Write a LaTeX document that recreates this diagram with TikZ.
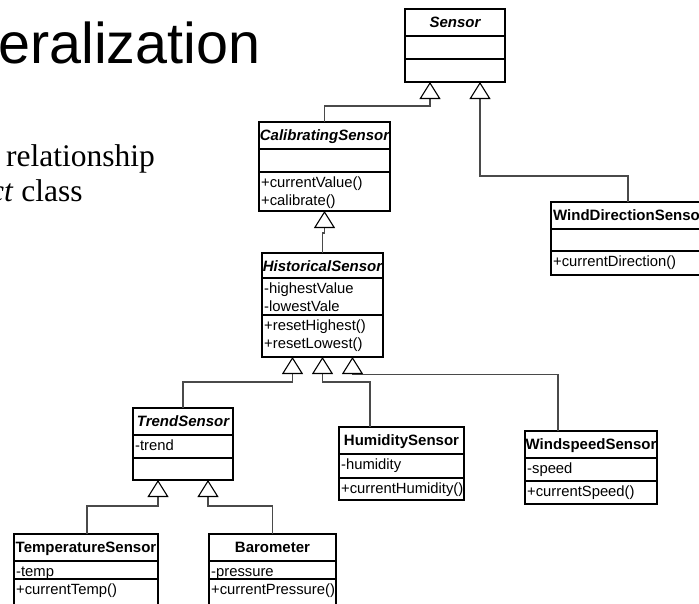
\documentclass[tikz,border=0pt]{standalone}
\usepackage{fontspec}
\setmainfont{Liberation Serif}
\newfontfamily\uifont{Liberation Sans}
\usetikzlibrary{arrows.meta}
\definecolor{wire}{HTML}{4A4A4A}
\tikzset{
  classbox/.style={draw=black, fill=white, line width=1.1pt, anchor=north west,
    inner sep=0pt, outer sep=0pt},
  divider/.style={draw=black, line width=1.1pt},
  cname/.style={font=\uifont\fontsize{15}{18}\selectfont\bfseries, anchor=base, inner sep=0pt},
  aname/.style={font=\uifont\fontsize{15}{18}\selectfont\bfseries\itshape, anchor=base, inner sep=0pt},
  member/.style={font=\uifont\fontsize{14.8}{18}\selectfont, anchor=base west, inner sep=0pt},
  headline/.style={font=\uifont\fontsize{57.5}{64}\selectfont, anchor=base west, inner sep=0pt},
  bodytext/.style={font=\fontsize{31.5}{36}\selectfont, anchor=base west, inner sep=0pt},
  gen/.style={draw=wire, line width=1.1pt,
    -{Triangle[open, length=17pt, width=21pt, color=black, fill=white, line width=1.1pt]}},
}
\begin{document}
\begin{tikzpicture}[x=1pt,y=-1pt]
\useasboundingbox (0,0) rectangle (699,603);
\clip (0,0) rectangle (699,603);

% slide text
\node[headline] (title) at (-2,63) {eralization};
\node[bodytext] (line1) at (6,166) {relationship};
\node[bodytext] (line2) at (-10,201) {\textit{ct} class};

% class boxes
\node[classbox, minimum width=100pt, minimum height=73pt] (sensor) at (405,9) {};
\node[classbox, minimum width=131pt, minimum height=89pt] (calib) at (259,122) {};
\node[classbox, minimum width=121pt, minimum height=104pt] (hist) at (262,253) {};
\node[classbox, minimum width=170pt, minimum height=73pt] (wdir) at (551,202) {};
\node[classbox, minimum width=100pt, minimum height=72pt] (trend) at (133,408) {};
\node[classbox, minimum width=125pt, minimum height=73pt] (humid) at (339,427) {};
\node[classbox, minimum width=132pt, minimum height=73pt] (wspeed) at (525,431) {};
\node[classbox, minimum width=144pt, minimum height=80pt] (temp) at (14,534) {};
\node[classbox, minimum width=127pt, minimum height=80pt] (baro) at (209,534) {};

% generalization connectors
\draw[gen] (calib.north) |- (430,106) -- ([xshift=-25pt]sensor.south);
\draw[gen] ([xshift=77pt]wdir.north west) |- (480,176) -- ([xshift=25pt]sensor.south);
\draw[gen] (hist.north) -- (322.5,233) -- (324.5,233) -- (calib.south);
\draw[gen] (trend.north) |- (292.5,382) -- ([xshift=-30pt]hist.south);
\draw[gen] ([xshift=31pt]humid.north west) |- (322.5,382) -- (hist.south);
\draw[gen] ([xshift=33pt]wspeed.north west) |- (352.5,374.5) -- ([xshift=30pt]hist.south);
\draw[gen] ([xshift=73pt]temp.north west) |- (158,506) -- ([xshift=-25pt]trend.south);
\draw[gen] (baro.north) |- (208,506) -- ([xshift=25pt]trend.south);

% compartments
\draw[divider] (405,36) -- (505,36) (405,59) -- (505,59);
\draw[divider] (259,149) -- (390,149) (259,172) -- (390,172);
\draw[divider] (262,278) -- (383,278) (262,315) -- (383,315);
\draw[divider] (551,229) -- (721,229) (551,251) -- (721,251);
\draw[divider] (133,435) -- (233,435) (133,458) -- (233,458);
\draw[divider] (339,454) -- (464,454) (339,478) -- (464,478);
\draw[divider] (525,458) -- (657,458) (525,481) -- (657,481);
\draw[divider] (14,561) -- (158,561) (14,579) -- (158,579);
\draw[divider] (209,561) -- (336,561) (209,579) -- (336,579);

% Sensor
\node[aname] (sensor-n) at (455,27.5) {Sensor};
% CalibratingSensor
\node[aname] (calib-n) at (324.5,140.5) {CalibratingSensor};
\node[member] (calib-m1) at (261,187.5) {+currentValue()};
\node[member] (calib-m2) at (261,205.5) {+calibrate()};
% HistoricalSensor
\node[aname] (hist-n) at (322.5,271.5) {HistoricalSensor};
\node[member] (hist-a1) at (264,293.5) {-highestValue};
\node[member] (hist-a2) at (264,311.5) {-lowestVale};
\node[member] (hist-m1) at (264,330.5) {+resetHighest()};
\node[member] (hist-m2) at (264,348.5) {+resetLowest()};
% WindDirectionSensor
\node[cname, anchor=base west] (wdir-n) at (553,220.5) {WindDirectionSensor};
\node[member] (wdir-m1) at (553,266.5) {+currentDirection()};
% TrendSensor
\node[aname] (trend-n) at (183,426.5) {TrendSensor};
\node[member] (trend-a1) at (135,450.5) {-trend};
% HumiditySensor
\node[cname] (humid-n) at (401.5,445.5) {HumiditySensor};
\node[member] (humid-a1) at (341,469.5) {-humidity};
\node[member] (humid-m1) at (341,493.5) {+currentHumidity()};
% WindspeedSensor
\node[cname] (wspeed-n) at (591,449.5) {WindspeedSensor};
\node[member] (wspeed-a1) at (527,473.5) {-speed};
\node[member] (wspeed-m1) at (527,496.5) {+currentSpeed()};
% TemperatureSensor
\node[cname] (temp-n) at (86,552.5) {TemperatureSensor};
\node[member] (temp-a1) at (16,576.5) {-temp};
\node[member] (temp-m1) at (16,594.5) {+currentTemp()};
% Barometer
\node[cname] (baro-n) at (272.5,552.5) {Barometer};
\node[member] (baro-a1) at (211,576.5) {-pressure};
\node[member] (baro-m1) at (211,594.5) {+currentPressure()};
\end{tikzpicture}
\end{document}
